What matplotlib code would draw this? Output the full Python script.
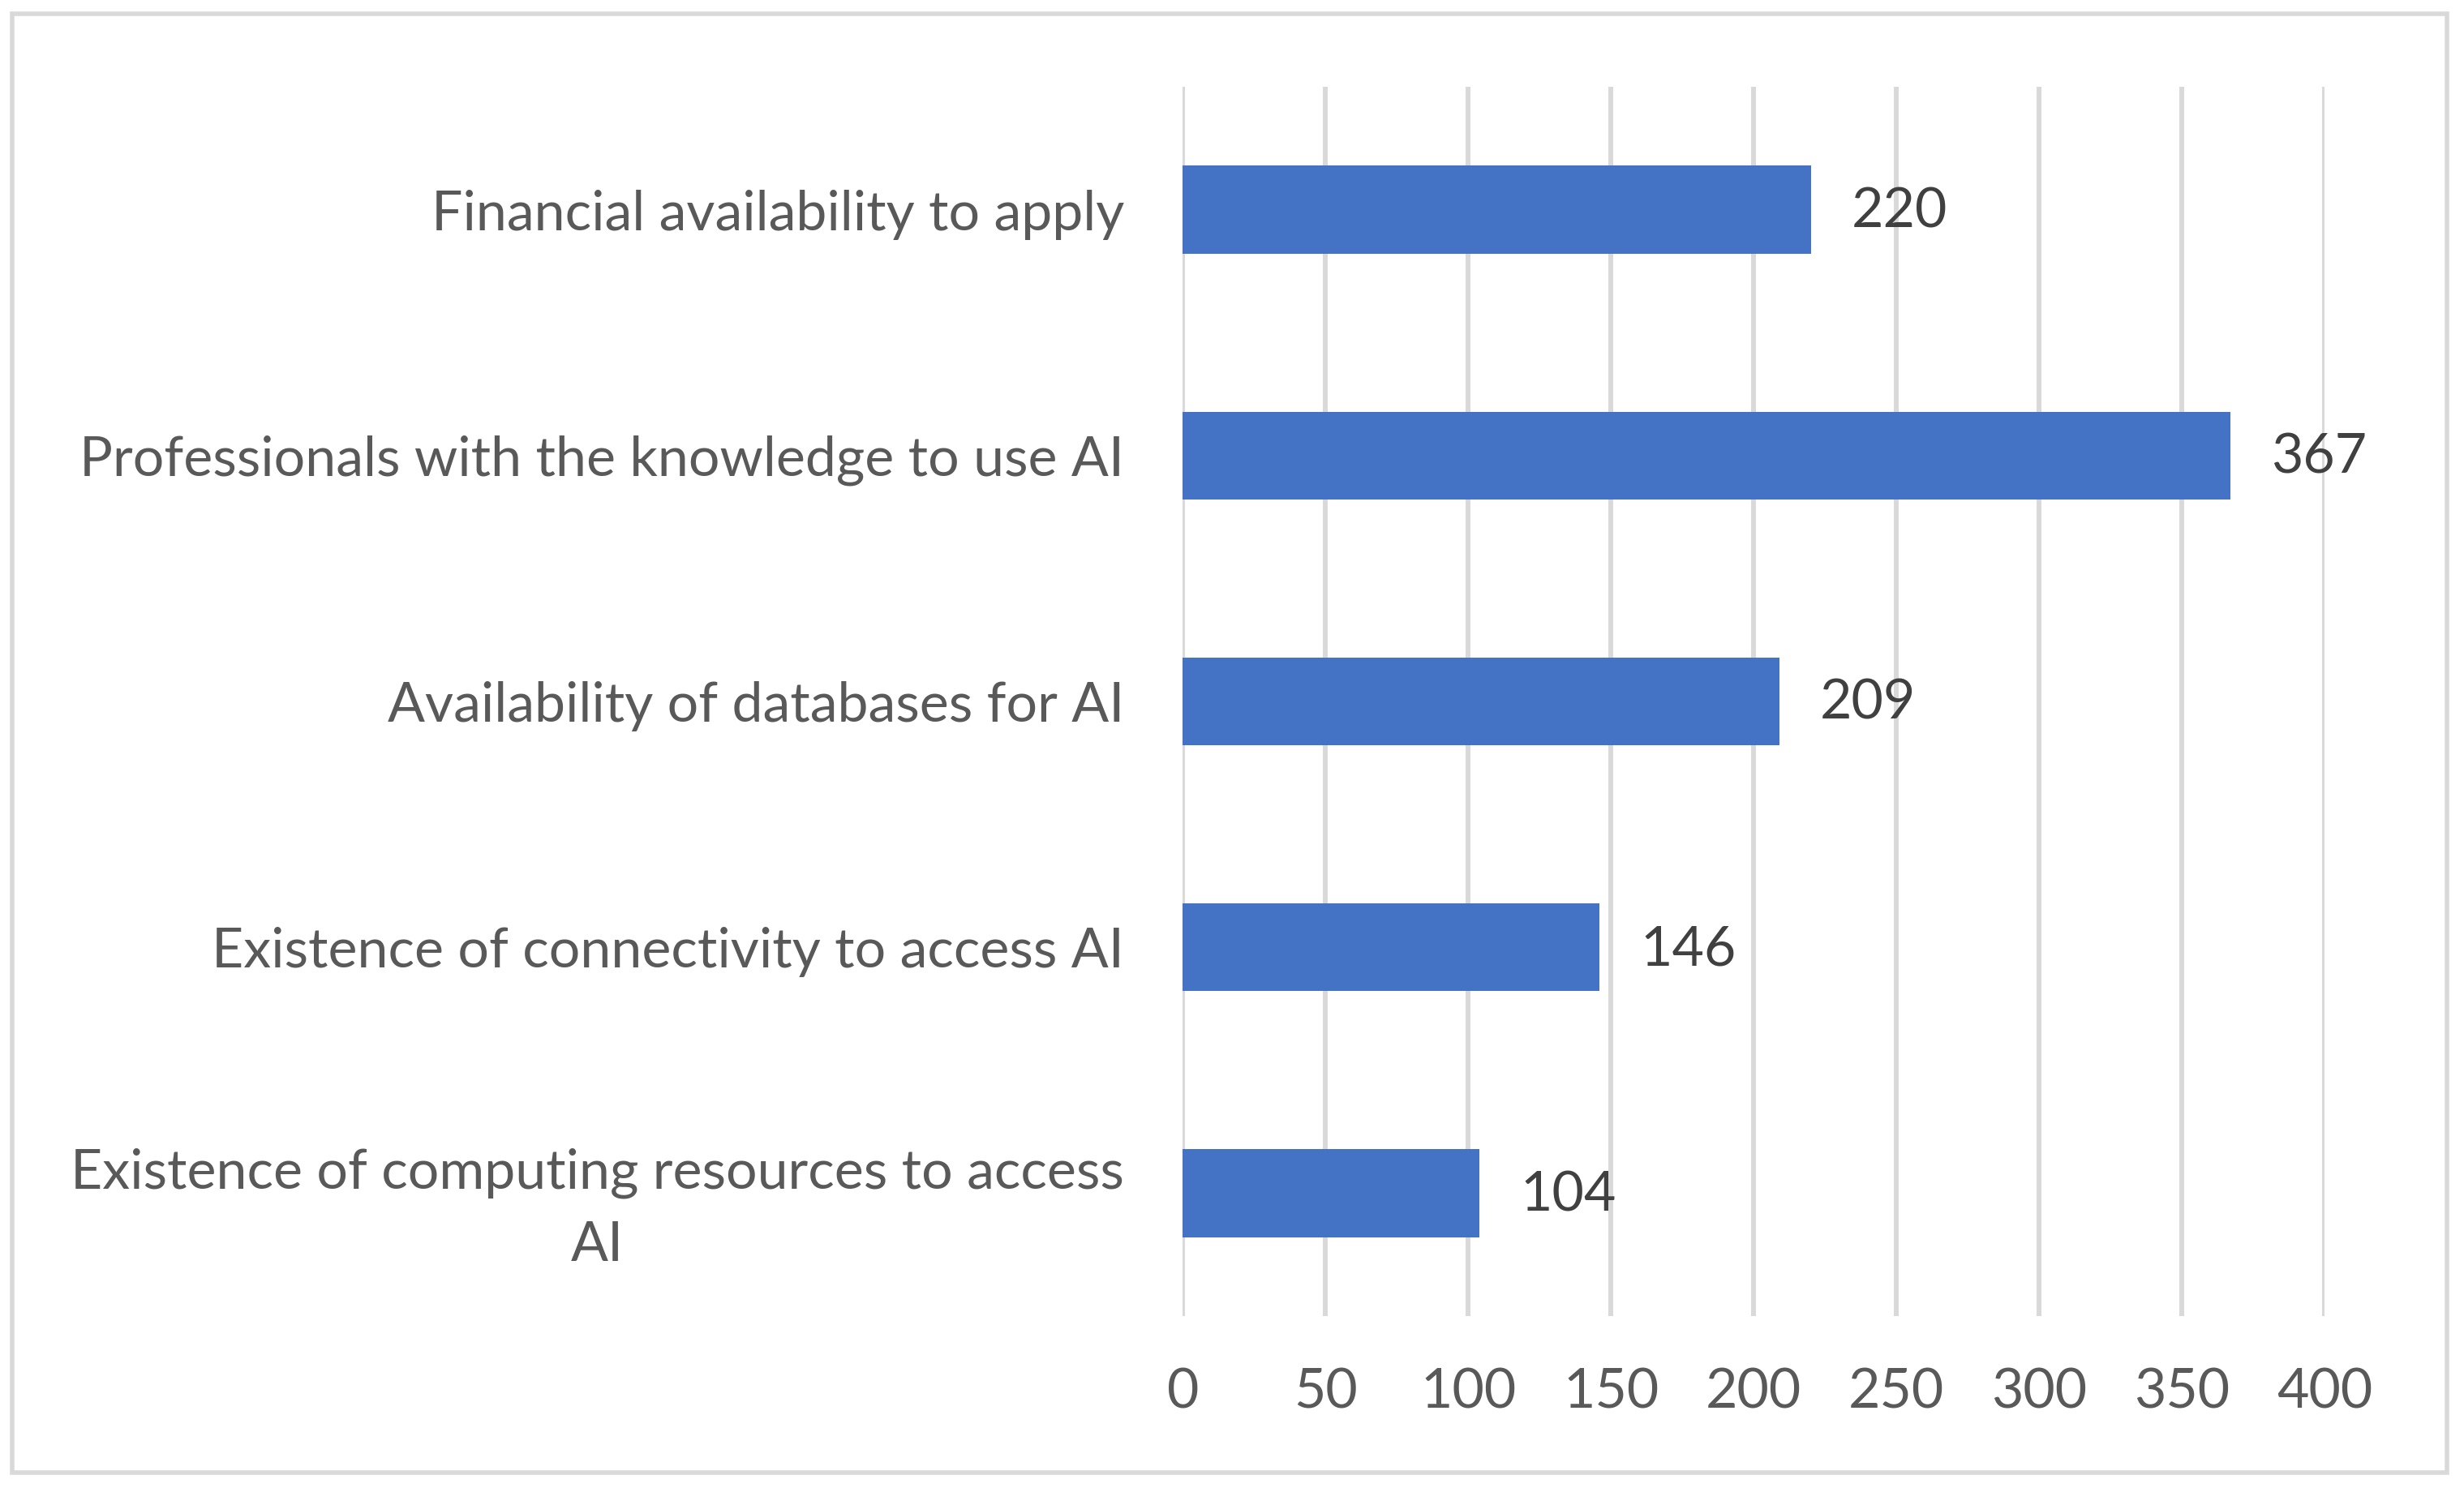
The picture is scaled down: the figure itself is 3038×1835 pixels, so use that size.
import matplotlib.pyplot as plt
from matplotlib.patches import Rectangle

categories = [
    'Financial availability to apply',
    'Professionals with the knowledge to use AI',
    'Availability of databases for AI',
    'Existence of connectivity to access AI',
    'Existence of computing resources to access\nAI',
]
counts = [220, 367, 209, 146, 104]
xticks = [0, 50, 100, 150, 200, 250, 300, 350, 400]

plt.rcParams['font.family'] = ['Lato', 'DejaVu Sans']

fig = plt.figure(figsize=(30.38, 18.35), dpi=100)
ax = fig.add_axes([0.48, 0.1155, 0.4634, 0.8262])

ypos = list(range(len(categories)))
bars = ax.barh(ypos, counts, height=0.357, color='#4472C4', zorder=3)

ax.set_ylim(len(categories) - 0.5, -0.5)
ax.set_xlim(0, 400)
ax.set_xticks(xticks)
ax.set_yticks(ypos)
ax.set_yticklabels(categories, multialignment='center', linespacing=1.55)

ax.grid(axis='x', color='#D9D9D9', linewidth=4.3, zorder=0)
ax.set_axisbelow(True)
for s in ax.spines.values():
    s.set_visible(False)
ax.tick_params(axis='both', length=0, labelsize=49, labelcolor='#595959')
ax.tick_params(axis='x', pad=46)
ax.tick_params(axis='y', pad=52)

for b, v in zip(bars, counts):
    ax.annotate(str(v), (v, b.get_y() + b.get_height() / 2),
                xytext=(36, -2), textcoords='offset points',
                va='center', ha='left', fontsize=49, color='#404040')

fig.patches.append(Rectangle((15 / 3038, 1 - 1816 / 1835), 3002 / 3038, 1799 / 1835,
                             transform=fig.transFigure, fill=False,
                             edgecolor='#D9D9D9', linewidth=4))

fig.savefig('out.png', dpi=100)
